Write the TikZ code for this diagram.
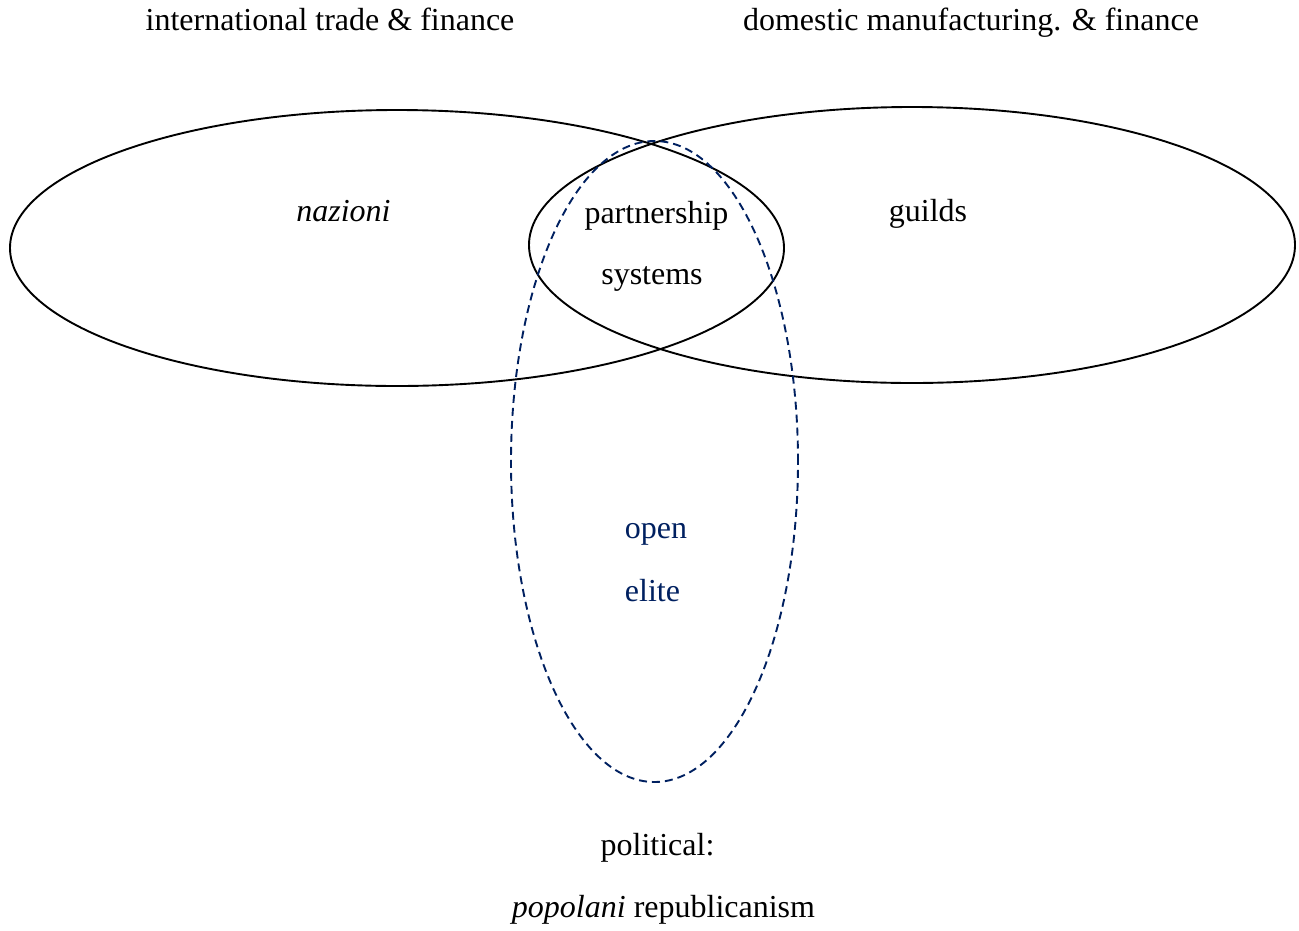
\documentclass[tikz,border=0pt]{standalone}
\usepackage{fontspec}
\setmainfont{Liberation Serif}
\usetikzlibrary{shapes.geometric}
\definecolor{navy}{RGB}{0,32,96}
\begin{document}
\begin{tikzpicture}[x=1pt,y=-1pt,
  lbl/.style={anchor=base,inner sep=0pt,font=\fontsize{32}{38}\selectfont},
  blue lbl/.style={lbl,text=navy},
  setell/.style={ellipse,draw=black,line width=1.9pt,inner sep=0pt},
  dashell/.style={ellipse,draw=navy,line width=1.9pt,inner sep=0pt,dash pattern=on 8pt off 5pt}]
\useasboundingbox (0,0) rectangle (1299,930);
\node[setell,minimum width=774pt,minimum height=276pt] (left) at (397,248) {};
\node[setell,minimum width=766pt,minimum height=276pt] (right) at (912,245) {};
\node[dashell,minimum width=287pt,minimum height=641pt] (elite) at (654.5,461.5) {};
\node[lbl] (t1) at (330,30) {international trade \& finance};
\node[lbl] (t2) at (971,30) {domestic manufacturing. \& finance};
\node[lbl] (naz) at (343.5,221) {\itshape nazioni};
\node[lbl] (gui) at (928,221) {guilds};
\node[lbl] (part) at (656.5,223) {partnership};
\node[lbl] (sys) at (652,284) {systems};
\node[blue lbl] (open) at (656,538) {open};
\node[blue lbl] (eli) at (652.5,601) {elite};
\node[lbl] (pol) at (657.5,855) {political:};
\node[lbl] (pop) at (663.5,917) {\textit{popolani} republicanism};
\end{tikzpicture}
\end{document}
